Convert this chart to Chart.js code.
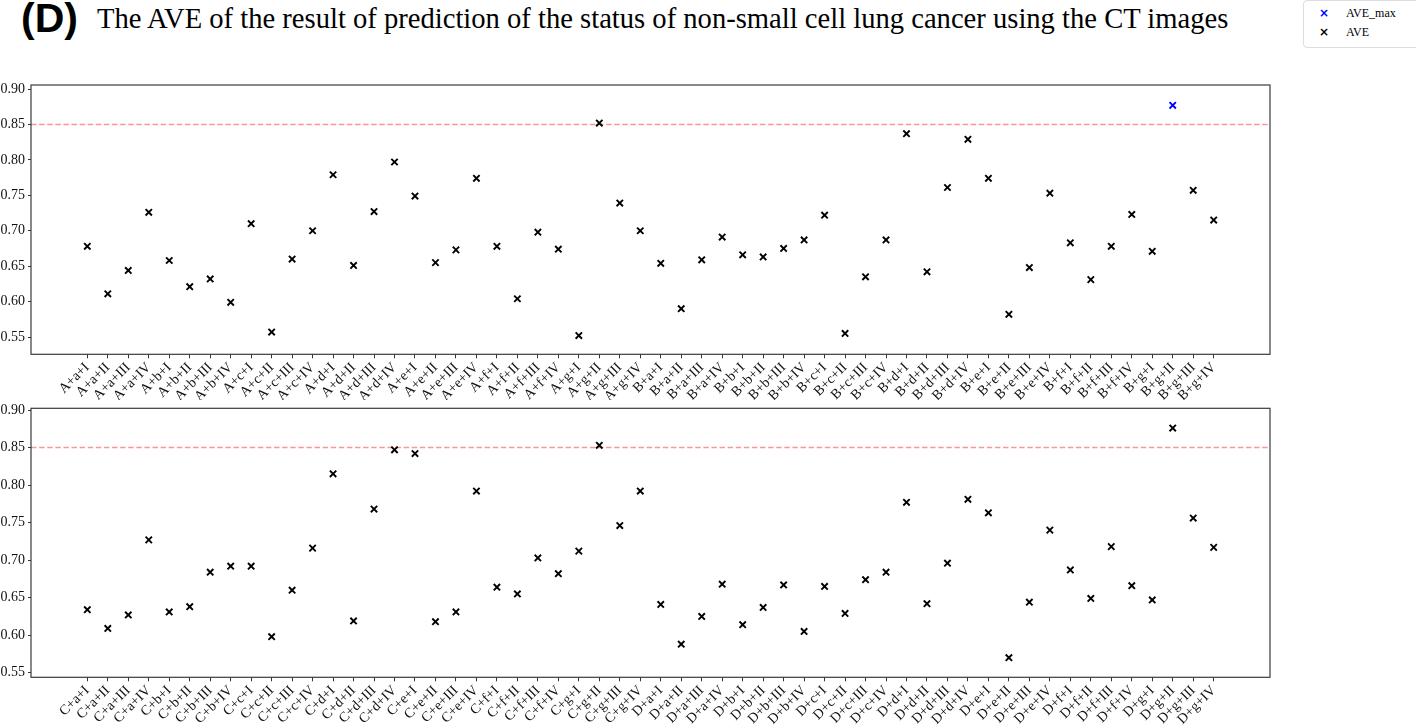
<!DOCTYPE html>
<html>
<head>
<meta charset="utf-8">
<script src="https://cdn.jsdelivr.net/npm/chart.js@4"></script>
<style>
  body { margin: 0; width: 1416px; height: 727px; background: #fff; overflow: hidden; position: relative; }
  .title-d { position: absolute; left: 21px; top: -6px; font-family: "Liberation Sans", Arial, sans-serif; font-weight: bold; font-size: 41px; line-height: 48px; color: #000; }
  .title-main { position: absolute; left: 97px; top: 0px; font-family: "Liberation Serif", "Times New Roman", serif; font-size: 28.6px; line-height: 38px; color: #000; white-space: nowrap; }
  .legend { position: absolute; left: 1303px; top: 0px; width: 120px; height: 46px; border: 1px solid #ddd; border-radius: 4px; background: #fff;
            font-family: "Liberation Serif", serif; font-size: 12px; color: #000; }
  .legend div { position: absolute; left: 15px; white-space: nowrap; }
  .legend span { display: inline-block; width: 27px; font-family: "DejaVu Sans", sans-serif; font-weight: bold; font-size: 12px; }
  canvas { position: absolute; left: 0; }
  #topChart { top: 70px; }
  #bottomChart { top: 395px; }
</style>
</head>
<body>
<div class="title-d">(D)</div>
<div class="title-main">The AVE of the result of prediction of the status of non-small cell lung cancer using the CT images</div>
<div class="legend">
  <div style="top: 5px;"><span style="color:#0000ff">×</span>AVE_max</div>
  <div style="top: 24px;"><span>×</span>AVE</div>
</div>
<canvas id="topChart" width="1416" height="330"></canvas>
<canvas id="bottomChart" width="1416" height="332"></canvas>

<script>
const topLabels = [
    'A+a+I', 'A+a+II', 'A+a+III', 'A+a+IV', 'A+b+I', 'A+b+II', 'A+b+III', 'A+b+IV',
    'A+c+I', 'A+c+II', 'A+c+III', 'A+c+IV', 'A+d+I', 'A+d+II', 'A+d+III', 'A+d+IV',
    'A+e+I', 'A+e+II', 'A+e+III', 'A+e+IV', 'A+f+I', 'A+f+II', 'A+f+III', 'A+f+IV',
    'A+g+I', 'A+g+II', 'A+g+III', 'A+g+IV',
    'B+a+I', 'B+a+II', 'B+a+III', 'B+a+IV', 'B+b+I', 'B+b+II', 'B+b+III', 'B+b+IV',
    'B+c+I', 'B+c+II', 'B+c+III', 'B+c+IV', 'B+d+I', 'B+d+II', 'B+d+III', 'B+d+IV',
    'B+e+I', 'B+e+II', 'B+e+III', 'B+e+IV', 'B+f+I', 'B+f+II', 'B+f+III', 'B+f+IV',
    'B+g+I', 'B+g+II', 'B+g+III', 'B+g+IV'
];
const bottomLabels = [
    'C+a+I', 'C+a+II', 'C+a+III', 'C+a+IV', 'C+b+I', 'C+b+II', 'C+b+III', 'C+b+IV',
    'C+c+I', 'C+c+II', 'C+c+III', 'C+c+IV', 'C+d+I', 'C+d+II', 'C+d+III', 'C+d+IV',
    'C+e+I', 'C+e+II', 'C+e+III', 'C+e+IV', 'C+f+I', 'C+f+II', 'C+f+III', 'C+f+IV',
    'C+g+I', 'C+g+II', 'C+g+III', 'C+g+IV',
    'D+a+I', 'D+a+II', 'D+a+III', 'D+a+IV', 'D+b+I', 'D+b+II', 'D+b+III', 'D+b+IV',
    'D+c+I', 'D+c+II', 'D+c+III', 'D+c+IV', 'D+d+I', 'D+d+II', 'D+d+III', 'D+d+IV',
    'D+e+I', 'D+e+II', 'D+e+III', 'D+e+IV', 'D+f+I', 'D+f+II', 'D+f+III', 'D+f+IV',
    'D+g+I', 'D+g+II', 'D+g+III', 'D+g+IV'
];

// AVE values
const topAve = [
    0.678, 0.611, 0.644, 0.726, 0.658, 0.621, 0.632, 0.599,
    0.710, 0.557, 0.660, 0.700, 0.779, 0.651, 0.727, 0.797,
    0.749, 0.655, 0.673, 0.774, 0.678, 0.604, 0.698, 0.674,
    0.552, 0.852, 0.739, 0.700,
    0.654, 0.590, 0.659, 0.691, 0.666, 0.663, 0.675, 0.687,
    0.722, 0.555, 0.635, 0.687, 0.837, 0.642, 0.761, 0.829,
    0.774, 0.582, 0.648, 0.753, 0.683, 0.631, 0.678, 0.723,
    0.671, 0.877, 0.757, 0.715
];
const bottomAve = [
    0.634, 0.609, 0.627, 0.727, 0.631, 0.638, 0.684, 0.692,
    0.692, 0.598, 0.660, 0.716, 0.815, 0.619, 0.768, 0.847,
    0.842, 0.618, 0.631, 0.792, 0.664, 0.655, 0.703, 0.682,
    0.712, 0.853, 0.746, 0.792,
    0.641, 0.588, 0.625, 0.668, 0.614, 0.637, 0.667, 0.605,
    0.665, 0.629, 0.674, 0.684, 0.777, 0.642, 0.696, 0.781,
    0.763, 0.570, 0.644, 0.740, 0.687, 0.649, 0.718, 0.666,
    0.647, 0.876, 0.756, 0.717
];

const yTicks = [0.55, 0.60, 0.65, 0.70, 0.75, 0.80, 0.85, 0.90];
const threshold = 0.85;
const xPad = 2.75;

const framePlugin = {
    id: 'frame',
    afterDatasetsDraw(chart) {
        const a = chart.chartArea;
        const ctx = chart.ctx;
        ctx.save();
        ctx.strokeStyle = '#3a3a3a';
        ctx.lineWidth = 1.2;
        ctx.strokeRect(a.left, a.top, a.right - a.left, a.bottom - a.top);
        ctx.restore();
    }
};

function makeChart(canvasId, labels, values, showMax, yMin, yMax, padTop, xHeight) {
    const xMin = -xPad;
    const xMax = labels.length - 1 + xPad;
    const maxIdx = showMax ? values.indexOf(Math.max(...values)) : -1;

    const avePoints = values.map((v, i) => ({ x: i, y: v })).filter((p, i) => i !== maxIdx);
    const datasets = [
        {
            type: 'line',
            label: 'threshold',
            data: [{ x: xMin, y: threshold }, { x: xMax, y: threshold }],
            borderColor: 'rgba(255, 60, 60, 0.55)',
            borderWidth: 1.4,
            borderDash: [5.5, 2.6],
            pointRadius: 0,
            order: 3
        },
        {
            label: 'AVE',
            data: avePoints,
            pointStyle: 'crossRot',
            pointRadius: 4.5,
            borderColor: '#000',
            backgroundColor: '#000',
            borderWidth: 1.9,
            order: 2
        }
    ];
    if (showMax) {
        datasets.push({
            label: 'AVE_max',
            data: [{ x: maxIdx, y: values[maxIdx] }],
            pointStyle: 'crossRot',
            pointRadius: 4.5,
            borderColor: '#0000ff',
            backgroundColor: '#0000ff',
            borderWidth: 1.9,
            order: 1
        });
    }

    return new Chart(document.getElementById(canvasId).getContext('2d'), {
        type: 'scatter',
        data: { datasets: datasets },
        options: {
            responsive: false,
            animation: false,
            layout: { padding: { top: padTop, right: 146, left: 0, bottom: 0 } },
            plugins: { legend: { display: false }, tooltip: { enabled: false } },
            scales: {
                x: {
                    type: 'linear',
                    min: xMin,
                    max: xMax,
                    afterBuildTicks: scale => { scale.ticks = labels.map((l, i) => ({ value: i })); },
                    afterFit: scale => { scale.height = xHeight; },
                    grid: { drawOnChartArea: false, drawTicks: true, tickLength: 4, tickColor: '#333' },
                    border: { display: false },
                    ticks: {
                        autoSkip: false,
                        maxRotation: 45,
                        minRotation: 45,
                        padding: 1,
                        color: '#111',
                        font: { family: 'Liberation Serif', size: 14 },
                        callback: value => labels[value]
                    }
                },
                y: {
                    min: yMin,
                    max: yMax,
                    afterBuildTicks: scale => { scale.ticks = yTicks.map(v => ({ value: v })); },
                    afterFit: scale => { scale.width = 31; },
                    grid: { drawOnChartArea: false, drawTicks: true, tickLength: 3, tickColor: '#333' },
                    border: { display: false },
                    ticks: {
                        padding: 3,
                        color: '#111',
                        font: { family: 'Liberation Serif', size: 14 },
                        callback: value => value.toFixed(2)
                    }
                }
            }
        },
        plugins: [framePlugin]
    });
}

makeChart('topChart', topLabels, topAve, true, 0.5256, 0.9057, 15, 45.7);
makeChart('bottomChart', bottomLabels, bottomAve, false, 0.5439, 0.9023, 13.3, 49.7);
</script>
</body>
</html>
